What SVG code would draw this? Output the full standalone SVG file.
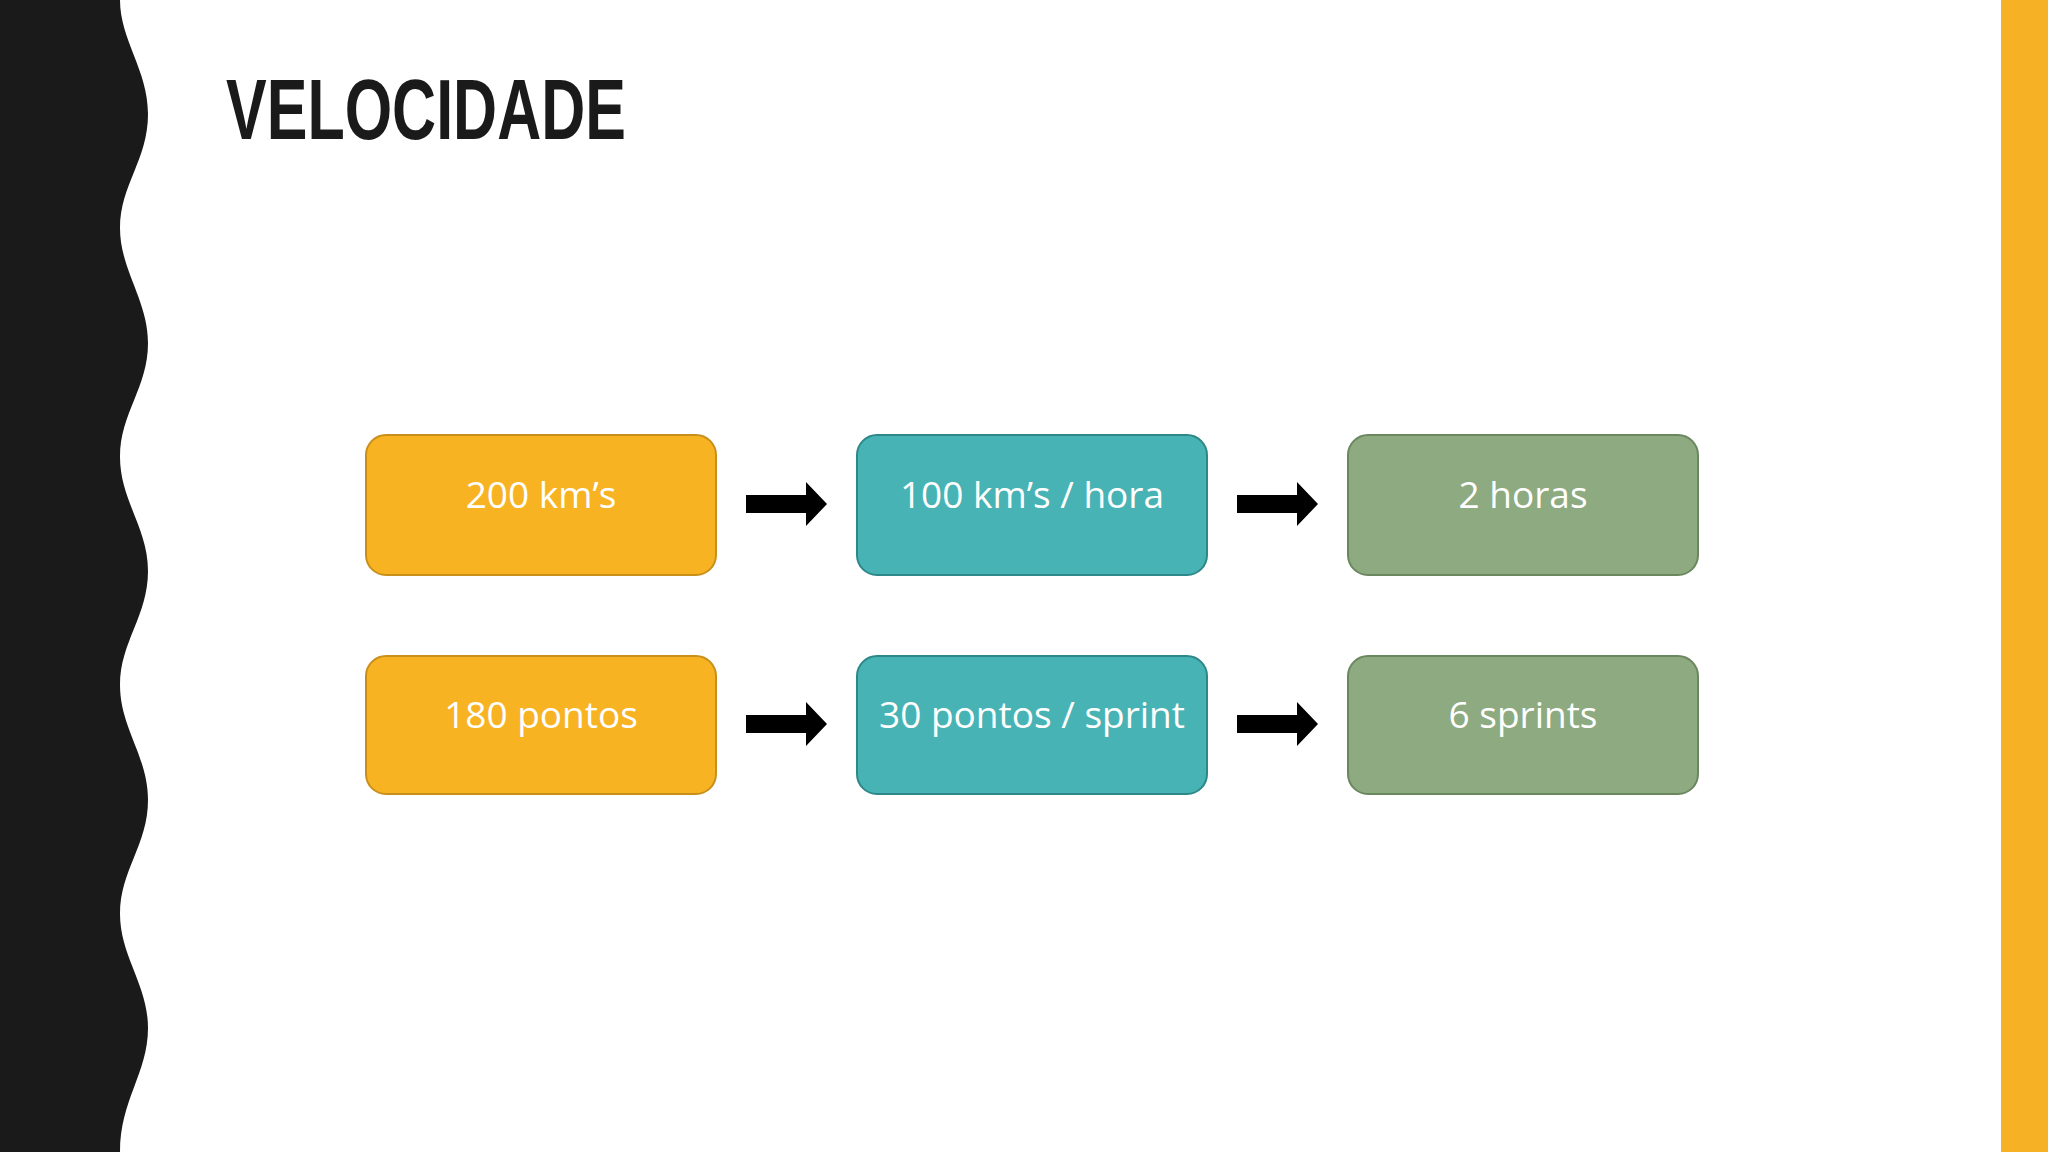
<svg xmlns="http://www.w3.org/2000/svg" width="2048" height="1152" viewBox="0 0 2048 1152">
<style>
.t{font-family:"Open Sans","Noto Sans",sans-serif;font-size:37px;fill:#fff;text-anchor:middle}
.o{fill:#F8B323;stroke:#C8901A;stroke-width:2}
.c{fill:#48B3B4;stroke:#2E8788;stroke-width:2}
.g{fill:#8EAA80;stroke:#6B8760;stroke-width:2}
</style>
<defs>
<path id="arr" d="M0,-9 H60 V-22 L81,0 L60,22 V9 H0 Z" fill="#000"/>
</defs>
<rect width="2048" height="1152" fill="#fff"/>
<path d="M0,0 H120 C120,40 148,70 148,114 C148,160 120,185 120,228 C120,270 148,300 148,343 C148,388 120,413 120,457 C120,500 148,528 148,571 C148,616 120,642 120,685 C120,728 148,756 148,800 C148,845 120,870 120,914 C120,956 148,985 148,1028 C148,1073 120,1100 120,1152 H0 Z" fill="#1A1A1A"/>
<rect x="2001" y="0" width="47" height="1152" fill="#F7B125"/>
<text x="226" y="139" font-family="Liberation Sans,Arial,sans-serif" font-weight="bold" font-size="86" fill="#1A1A1A" textLength="400" lengthAdjust="spacingAndGlyphs">VELOCIDADE</text>
<g id="connectors">
<use href="#arr" x="746" y="504"/>
<use href="#arr" x="1237" y="504"/>
<use href="#arr" x="746" y="724"/>
<use href="#arr" x="1237" y="724"/>
</g>
<g id="n1"><rect class="o" x="366" y="435" width="350" height="140" rx="20"/><text class="t" x="541" y="508">200 km’s</text></g>
<g id="n2"><rect class="c" x="857" y="435" width="350" height="140" rx="20"/><text class="t" x="1032" y="508">100 km’s / hora</text></g>
<g id="n3"><rect class="g" x="1348" y="435" width="350" height="140" rx="20"/><text class="t" x="1523" y="508">2 horas</text></g>
<g id="n4"><rect class="o" x="366" y="656" width="350" height="138" rx="20"/><text class="t" x="541" y="728">180 pontos</text></g>
<g id="n5"><rect class="c" x="857" y="656" width="350" height="138" rx="20"/><text class="t" x="1032" y="728">30 pontos / sprint</text></g>
<g id="n6"><rect class="g" x="1348" y="656" width="350" height="138" rx="20"/><text class="t" x="1523" y="728">6 sprints</text></g>
</svg>
